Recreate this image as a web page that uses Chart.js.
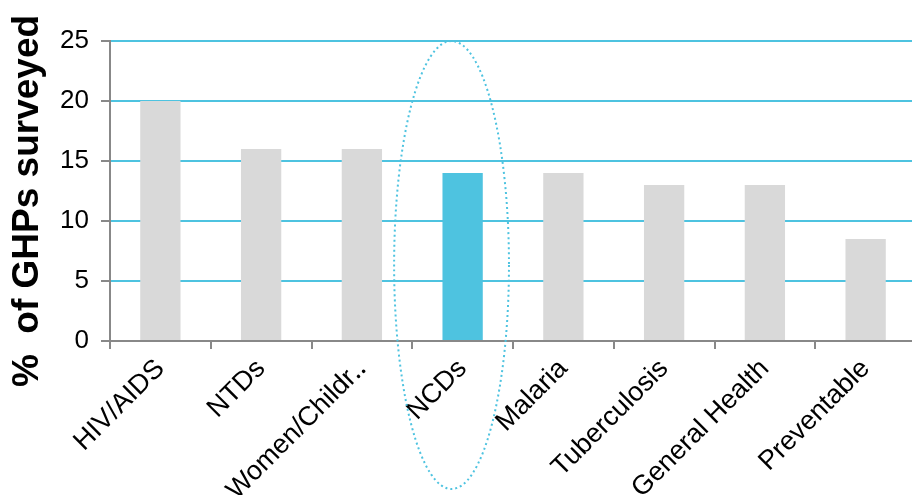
<!DOCTYPE html>
<html><head><meta charset="utf-8">
<script src="https://cdn.jsdelivr.net/npm/chart.js@4"></script>
<style>
html,body{margin:0;padding:0;background:#fff;overflow:hidden;}
#wrap{width:918px;height:495px;position:relative;}
</style></head>
<body><div id="wrap"><canvas id="c"></canvas></div>
<script>
const categories = ["HIV/AIDS","NTDs","Women/Childr\u2025","NCDs","Malaria","Tuberculosis","General Health","Preventable"];
const values = [20, 16, 16, 14, 14, 13, 13, 8.5];
const highlight = "NCDs";
const yTicks = [0,5,10,15,20,25];
const yTitle = "%  of GHPs surveyed";

const GRAY = "#D9D9D9", CYAN = "#4EC3E0", AXIS = "#888888";
const FONT = "Liberation Sans";

const ellipsePlugin = {
  id: "ellipse",
  afterDatasetsDraw(chart) {
    const x = chart.scales.x, y = chart.scales.y;
    const idx = categories.indexOf(highlight);
    const catW = x.getPixelForValue(1) - x.getPixelForValue(0);
    const cx = x.getPixelForValue(idx) - catW * 0.11;
    const top = y.getPixelForValue(25);
    const bottom = chart.height - 6;
    const ctx = chart.ctx;
    ctx.save();
    ctx.strokeStyle = CYAN;
    ctx.lineWidth = 2;
    ctx.setLineDash([2, 3]);
    ctx.beginPath();
    ctx.ellipse(cx, (top + bottom) / 2, catW * 0.57, (bottom - top) / 2, 0, 0, Math.PI * 2);
    ctx.stroke();
    ctx.restore();
  }
};

const titlePlugin = {
  id: "ytitle",
  afterDraw(chart) {
    const ctx = chart.ctx;
    const y = chart.scales.y;
    ctx.save();
    ctx.translate(28, (y.top + y.bottom) / 2 + 10);
    ctx.rotate(-Math.PI / 2);
    ctx.font = "bold 37px '" + FONT + "'";
    ctx.fillStyle = "#000";
    ctx.textAlign = "center";
    ctx.textBaseline = "middle";
    ctx.fillText(yTitle, 0, 0);
    ctx.restore();
  }
};

new Chart(document.getElementById("c"), {
  type: "bar",
  data: {
    labels: categories,
    datasets: [{
      data: values,
      backgroundColor: categories.map(c => c === highlight ? CYAN : GRAY),
      barPercentage: 0.4,
      categoryPercentage: 1.0
    }]
  },
  options: {
    responsive: true,
    maintainAspectRatio: false,
    animation: false,
    layout: { padding: { top: 41, right: 2, left: 8, bottom: 0 } },
    plugins: { legend: { display: false }, tooltip: { enabled: false } },
    scales: {
      x: {
        grid: { drawOnChartArea: false, tickColor: AXIS, tickLength: 8, lineWidth: 2 },
        border: { color: AXIS, width: 2 },
        ticks: {
          color: "#000", font: { family: FONT, size: 27 },
          maxRotation: 45, minRotation: 45, autoSkip: false, padding: 4
        },
        afterFit(s) { s.height = 154; }
      },
      y: {
        min: 0, max: 25,
        afterBuildTicks(s) { s.ticks = yTicks.map(v => ({ value: v })); },
        grid: { color: CYAN, lineWidth: 2, tickColor: AXIS, tickLength: 9 },
        border: { color: AXIS, width: 2 },
        ticks: { color: "#000", font: { family: FONT, size: 26 }, padding: 12 },
        afterFit(s) { s.width = 102; }
      }
    }
  },
  plugins: [ellipsePlugin, titlePlugin]
});
</script></body></html>
